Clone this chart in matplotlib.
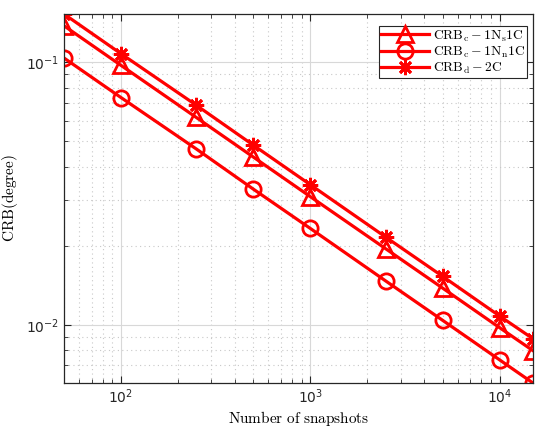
import matplotlib
matplotlib.use('Agg')
import matplotlib.pyplot as plt
import numpy as np

plt.rcParams['mathtext.fontset'] = 'cm'

# snapshots
snapshots = np.array([50, 100, 250, 500, 1000, 2500, 5000, 10000, 15000])

# CRB values (degree)
crb_c_ns = np.array([0.138, 0.0975, 0.0617, 0.0436, 0.0308, 0.0195, 0.0138, 0.00975, 0.00797])
crb_c_nn = np.array([0.104, 0.0735, 0.0468, 0.0329, 0.0233, 0.0147, 0.0104, 0.00735, 0.0060])
crb_d = np.array([0.153, 0.108, 0.0687, 0.0484, 0.0342, 0.0216, 0.0153, 0.0108, 0.00885])

labels = [r'$\mathrm{CRB_c-1N_s1C}$', r'$\mathrm{CRB_c-1N_n1C}$', r'$\mathrm{CRB_d-2C}$']

fig = plt.figure(figsize=(5.4, 4.34), dpi=100)
ax = fig.add_axes([0.1185, 0.1175, 0.8685, 0.8502])

red = '#ff0000'
ax.loglog(snapshots, crb_c_ns, color=red, lw=2.3, marker='^', ms=11, mfc='none', mew=2, label=labels[0])
ax.loglog(snapshots, crb_c_nn, color=red, lw=2.3, marker='o', ms=11, mfc='none', mew=2, label=labels[1])
ax.loglog(snapshots, crb_d, color=red, lw=2.3, marker=(8, 2, 0), ms=11, mew=2, label=labels[2])

ax.set_xlim(50, 15000)
ax.set_ylim(0.0060, 0.153)

ax.grid(True, which='major', color='#d8d8d8', lw=0.8, ls='-')
ax.grid(True, which='minor', color='#c8c8c8', lw=0.8, ls=(0, (1, 3)))
ax.tick_params(which='both', direction='in', top=True, right=True, colors='#262626', labelsize=10)
ax.tick_params(which='major', length=5)
ax.tick_params(which='minor', length=3, labelleft=False, labelbottom=False)
for s in ax.spines.values():
    s.set_color('#262626')
    s.set_linewidth(0.9)

ax.set_xlabel(r'$\mathrm{Number\ of\ snapshots}$', fontsize=11, labelpad=2)
ax.set_ylabel(r'$\mathrm{CRB(degree)}$', fontsize=11, labelpad=4)

leg = ax.legend(loc='upper right', bbox_to_anchor=(0.987, 0.967), fontsize=9.8, fancybox=False,
                framealpha=1, edgecolor='#262626', handlelength=3.5, borderpad=0.15,
                labelspacing=0.05, handletextpad=0.3, borderaxespad=0)
leg.get_frame().set_linewidth(0.8)

fig.savefig('out.png', dpi=100)
